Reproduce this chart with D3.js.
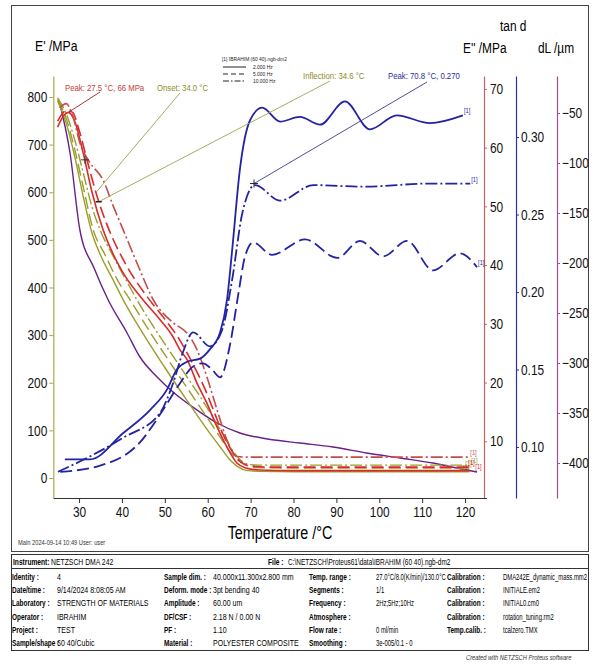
<!DOCTYPE html>
<html>
<head>
<meta charset="utf-8">
<script src="https://cdn.jsdelivr.net/npm/d3@7"></script>
<style>
  body { margin: 0; background: #fff; }
  text { font-family: "Liberation Sans", Arial, sans-serif; }
</style>
</head>
<body>
<svg id="chart" width="592" height="664"></svg>
<script>
// ---- data: [temperature °C, value] ----
const ePrime2Hz = [[25,792],[27,745],[29,675],[31,590],[33,515],[35,468],[38,415],[40.3,374],[45,302],[50,232],[55,165],[60,100],[63,64],[65,40],[67,24],[69,16],[72,14],[80,13],[100,13],[121,13]];
const ePrime5Hz = [[25,795],[27,755],[29,690],[31,610],[33.3,521],[36,470],[39,415],[41.9,374],[47,300],[52,232],[57,165],[62,98],[65,58],[67,38],[69,27],[71,22],[80,21],[100,21],[121,21]];
const ePrime10Hz = [[25,798],[27,765],[29,710],[31,640],[33,570],[34.9,521],[38,465],[41,415],[43.5,374],[49,295],[54,228],[59,160],[63,100],[66,55],[68,35],[70,28],[73,27],[80,27],[100,27],[121,27]];

const eLoss2Hz = [[25,63.5],[26.5,65.5],[27.5,66],[29,64.5],[31,59],[33,52.5],[35.6,46],[40,39],[44.9,34.1],[48.9,30.7],[51.9,27.8],[53.5,25.6],[55.2,23.9],[57.5,19.9],[59.8,16.5],[62.2,12.4],[64.5,9],[66.8,6.3],[68.7,5.5],[72,5.1],[80,5],[100,5],[121,5]];
const eLoss5Hz = [[25,64.5],[27,66.3],[28.5,66],[30,63],[32,57.5],[34.5,51],[37,46],[41,40],[46,34.5],[50,30.8],[53,27.8],[55,25.3],[57,22.5],[59.3,19],[61.5,15],[63.5,11.3],[65.7,8.3],[67.8,6.4],[70,5.8],[75,5.6],[100,5.6],[121,5.6]];
const eLoss10Hz = [[25.5,66.8],[27,67.5],[28.5,65.5],[30.2,60.8],[32.5,57.5],[35.6,54.5],[38,50],[40.3,46],[44,39.5],[47.3,34.1],[51.9,30.2],[55.2,28.4],[57.5,25.6],[59.8,21],[62.2,15.3],[64.5,10.2],[66.8,7.4],[69,7.3],[121,7.3]];

const tanD2Hz = [[26.7,0.092],[32.6,0.092],[40.3,0.109],[46.6,0.124],[50.5,0.137],[52.8,0.150],[55.2,0.155],[58.2,0.157],[60.5,0.163],[62.9,0.174],[64.5,0.195],[65.7,0.227],[67.5,0.279],[69.9,0.311],[72.7,0.319],[76.9,0.310],[81.5,0.313],[86.2,0.308],[92,0.323],[97.8,0.305],[104.1,0.314],[111.8,0.309],[119.5,0.314]];
const tanD5Hz = [[25.6,0.084],[34.9,0.088],[44.2,0.103],[49.6,0.124],[53.5,0.141],[56.6,0.152],[58.9,0.154],[61,0.150],[62.9,0.145],[65.2,0.166],[67.1,0.198],[68.7,0.223],[70.6,0.232],[75,0.224],[82.7,0.234],[90.2,0.222],[95.5,0.233],[100.9,0.223],[106.5,0.233],[112.5,0.214],[118.8,0.225],[122.8,0.216]];
const tanD10Hz = [[25.1,0.084],[32.6,0.094],[40.3,0.106],[48.9,0.122],[51.9,0.141],[54.2,0.161],[56.6,0.174],[60.5,0.165],[63.3,0.175],[65.7,0.208],[68,0.250],[71,0.269],[76.9,0.259],[84.6,0.269],[96.2,0.268],[111.8,0.270],[121.2,0.270]];

const dLength = [[25.3,-37],[27.9,-90],[30.2,-167],[33.5,-205],[36.8,-237],[41.2,-270],[44.2,-294],[48.2,-314],[51.9,-329],[57.5,-347],[62.2,-360],[67.5,-370],[74,-376],[81.5,-380],[89.2,-384],[97.1,-390],[104.8,-395],[112.5,-400],[118.1,-405],[122.8,-409]];

const xTicks = d3.range(30, 121, 10);
const eTicks = d3.range(0, 801, 100);
const e2Ticks = d3.range(10, 71, 10);
const tanTicks = [0.10, 0.15, 0.20, 0.25, 0.30];
const dlTicks = d3.range(-400, -49, 50);

const legendItems = ["2.000 Hz", "5.000 Hz", "10.000 Hz"];

const tableRows = [
  ["Identity :", "4", "Sample dim. :", "40.000x11.300x2.800 mm", "Temp. range :", "27.0°C/8.0(K/min)/130.0°C", "Calibration :", "DMA242E_dynamic_mass.mm2"],
  ["Date/time :", "9/14/2024 8:08:05 AM", "Deform. mode :", "3pt bending 40", "Segments :", "1/1", "Calibration :", "INITIALE.em2"],
  ["Laboratory :", "STRENGTH OF MATERIALS", "Amplitude :", "60.00 um", "Frequency :", "2Hz;5Hz;10Hz", "Calibration :", "INITIAL0.cm0"],
  ["Operator :", "IBRAHIM", "DF/CSF :", "2.18 N / 0.00 N", "Atmosphere :", "", "Calibration :", "rotation_tuning.rm2"],
  ["Project :", "TEST", "PF :", "1.10", "Flow rate :", "0 ml/min", "Temp.calib. :", "tcalzero.TMX"],
  ["Sample/shape :", "60 40/Cubic", "Material :", "POLYESTER COMPOSITE", "Smoothing :", "3e-005/0.1 - 0", "", ""]
];

// ---- colours ----
const olive = "#9c9c2c", red = "#d92b2b", red2 = "#c64b4b", blue = "#2323a3", purple = "#6c1f88";
const oliveAxis = "#a8a850", redAxis = "#c96464", blueAxis = "#2e2eb0", purpleAxis = "#a4508e";

const svg = d3.select("#chart");
svg.append("rect").attr("width", 592).attr("height", 664).attr("fill", "#fff");

// outer frame
svg.append("rect").attr("x", 11.5).attr("y", 5.5).attr("width", 577).attr("height", 546)
  .attr("fill", "none").attr("stroke", "#444").attr("stroke-width", 1);

// ---- scales ----
const x = d3.scaleLinear().domain([24, 125]).range([53.3, 486.5]);
const yE = d3.scaleLinear().domain([-42, 844]).range([498, 76]);
const yE2 = d3.scaleLinear().domain([0.34, 72.2]).range([498, 76]);
const yTan = d3.scaleLinear().domain([0.0671, 0.3394]).range([498, 76]);
const yDL = d3.scaleLinear().domain([-435, -13]).range([498, 76]);

function styleAxis(g, color, size) {
  g.select(".domain").attr("stroke", color).attr("stroke-width", 1.2);
  g.selectAll(".tick line").attr("stroke", color);
  g.selectAll(".tick text").attr("fill", "#111").attr("font-size", size)
    .attr("font-family", "'Liberation Sans',Arial,sans-serif");
}

// left E' axis
const gE = svg.append("g").attr("transform", "translate(53.3,0)");
gE.call(d3.axisLeft(yE).tickValues(d3.range(-40, 841, 20)).tickSize(2).tickSizeOuter(0).tickFormat(""));
gE.call(d3.axisLeft(yE).tickValues(eTicks).tickSize(4).tickSizeOuter(0).tickPadding(2));
styleAxis(gE, oliveAxis, 14.5);

// E'' axis
const gE2 = svg.append("g").attr("transform", "translate(484,0)");
gE2.call(d3.axisRight(yE2).tickValues(d3.range(2, 72, 2)).tickSize(2).tickSizeOuter(0).tickFormat(""));
gE2.call(d3.axisRight(yE2).tickValues(e2Ticks).tickSize(3).tickSizeOuter(0).tickPadding(3));
styleAxis(gE2, redAxis, 14.5);

// tan d axis
const gT = svg.append("g").attr("transform", "translate(516,0)");
gT.call(d3.axisRight(yTan).tickValues(d3.range(0.07, 0.335, 0.01)).tickSize(2).tickSizeOuter(0).tickFormat(""));
gT.call(d3.axisRight(yTan).tickValues(tanTicks).tickSize(3).tickSizeOuter(0).tickPadding(2).tickFormat(d3.format(".2f")));
styleAxis(gT, blueAxis, 14.5);

// dL axis
const gD = svg.append("g").attr("transform", "translate(557,0)");
gD.call(d3.axisRight(yDL).tickValues(d3.range(-425, -20, 25)).tickSize(2).tickSizeOuter(0).tickFormat(""));
gD.call(d3.axisRight(yDL).tickValues(dlTicks).tickSize(3).tickSizeOuter(0).tickPadding(2));
styleAxis(gD, purpleAxis, 14.5);

// x axis
const gX = svg.append("g").attr("transform", "translate(0,498)");
gX.call(d3.axisBottom(x).tickValues(d3.range(24, 125, 2)).tickSize(3).tickSizeOuter(0).tickFormat(""));
gX.call(d3.axisBottom(x).tickValues(xTicks).tickSize(5).tickSizeOuter(0).tickPadding(4));
styleAxis(gX, "#333", 14.5);

// axis titles
svg.append("text").attr("x", 35).attr("y", 51).attr("font-size", 15).text("E' /MPa");
svg.append("text").attr("x", 463).attr("y", 53).attr("font-size", 14.5).text("E'' /MPa");
svg.append("text").attr("x", 500).attr("y", 31).attr("font-size", 14.5).text("tan d");
svg.append("text").attr("x", 538).attr("y", 53).attr("font-size", 14.5).text("dL /µm");
svg.append("text").attr("x", 280).attr("y", 539).attr("font-size", 17.5).attr("text-anchor", "middle").text("Temperature /°C");

// ---- curves ----
const dashStyles = [null, "12,5", "12,3,2,3"];
function drawCurve(data, yScale, color, dash, width, dx = 1, dy = -2) {
  const line = d3.line().x(d => x(d[0])).y(d => yScale(d[1])).curve(d3.curveMonotoneX);
  svg.append("path").datum(data).attr("d", line).attr("fill", "none")
    .attr("stroke", color).attr("stroke-width", width)
    .attr("stroke-dasharray", dash);
  const last = data[data.length - 1];
  svg.append("text").attr("x", x(last[0]) + dx).attr("y", yScale(last[1]) + dy)
    .attr("font-size", 7).attr("fill", color).text("[1]");
}

drawCurve(dLength, yDL, purple, null, 1.4, -14, -2);
const oliveLabelDx = [-9, -4, 2];
[ePrime2Hz, ePrime5Hz, ePrime10Hz].forEach((d, i) => drawCurve(d, yE, olive, dashStyles[i], 1.4, oliveLabelDx[i], -2));
const redLabelDx = [6, -1, 1];
[eLoss2Hz, eLoss5Hz, eLoss10Hz].forEach((d, i) => drawCurve(d, yE2, i === 2 ? red2 : red, dashStyles[i], 1.6, redLabelDx[i], -2));
[tanD2Hz, tanD5Hz, tanD10Hz].forEach((d, i) => drawCurve(d, yTan, blue, dashStyles[i], 1.8));

// ---- annotations ----
function cross(px, py, color) {
  svg.append("path").attr("d", `M${px - 4},${py}H${px + 4}M${px},${py - 4}V${py + 4}`)
    .attr("stroke", color).attr("stroke-width", 1);
}
const peakE2 = [27.5, 66], onsetE = [34.0, 600], inflE = [34.6, 580], peakTan = [70.8, 0.270];

svg.append("line").attr("x1", 100).attr("y1", 92).attr("x2", x(peakE2[0])).attr("y2", yE2(peakE2[1]))
  .attr("stroke", "#a03838").attr("stroke-width", 1);
svg.append("line").attr("x1", 180).attr("y1", 93).attr("x2", x(onsetE[0])).attr("y2", yE(onsetE[1]))
  .attr("stroke", "#a0a050").attr("stroke-width", 0.9);
svg.append("line").attr("x1", 330).attr("y1", 81).attr("x2", x(inflE[0])).attr("y2", yE(inflE[1]))
  .attr("stroke", "#a0a050").attr("stroke-width", 0.9);
svg.append("line").attr("x1", 427).attr("y1", 82).attr("x2", x(peakTan[0])).attr("y2", yTan(peakTan[1]))
  .attr("stroke", "#3a3a90").attr("stroke-width", 0.9);
cross(x(peakTan[0]), yTan(peakTan[1]), "#222");
cross(x(31.4), yE(668), "#333");
svg.append("line").attr("x1", x(inflE[0]) - 3).attr("x2", x(inflE[0]) + 3)
  .attr("y1", yE(inflE[1])).attr("y2", yE(inflE[1])).attr("stroke", "#222").attr("stroke-width", 1.5);

svg.append("text").attr("x", 65).attr("y", 91).attr("font-size", 9.5).attr("fill", "#c0403a").text("Peak: 27.5 °C, 66 MPa");
svg.append("text").attr("x", 157).attr("y", 91).attr("font-size", 9.5).attr("fill", "#8c8c28").text("Onset: 34.0 °C");
svg.append("text").attr("x", 303).attr("y", 79).attr("font-size", 9.5).attr("fill", "#8c8c28").text("Inflection: 34.6 °C");
svg.append("text").attr("x", 388).attr("y", 79).attr("font-size", 9.5).attr("fill", "#2c2c9c").text("Peak: 70.8 °C, 0.270");

// ---- legend ----
svg.append("text").attr("x", 222).attr("y", 61).attr("font-size", 6).attr("fill", "#222").text("[1] IBRAHIM (60 40).ngb-dm2");
legendItems.forEach((t, i) => {
  const ly = 67 + i * 7;
  svg.append("line").attr("x1", 223).attr("x2", 246).attr("y1", ly).attr("y2", ly)
    .attr("stroke", "#222").attr("stroke-width", 1).attr("stroke-dasharray", i === 0 ? null : (i === 1 ? "5,3" : "6,2,1.5,2"));
  svg.append("text").attr("x", 253).attr("y", ly + 2).attr("font-size", 6).attr("fill", "#222").text(t);
});

// ---- footer ----
svg.append("text").attr("x", 18).attr("y", 545).attr("font-size", 7).attr("fill", "#333")
  .text("Main   2024-09-14 10:49    User: user");

const tbl = svg.append("g");
tbl.append("rect").attr("x", 11.5).attr("y", 554.5).attr("width", 577).attr("height", 96)
  .attr("fill", "none").attr("stroke", "#333");
tbl.append("line").attr("x1", 11.5).attr("x2", 588.5).attr("y1", 568.5).attr("y2", 568.5).attr("stroke", "#333");
tbl.append("text").attr("x", 13).attr("y", 565).attr("font-size", 9.5).attr("font-weight", "bold").attr("fill", "#000")
  .attr("data-k", 0.7).text("Instrument:");
tbl.append("text").attr("x", 51).attr("y", 565).attr("font-size", 9.5).attr("fill", "#000").attr("data-k", 0.72).text("NETZSCH DMA 242");
tbl.append("text").attr("x", 268).attr("y", 565).attr("font-size", 9.5).attr("font-weight", "bold").attr("fill", "#000")
  .attr("data-k", 0.7).text("File :");
tbl.append("text").attr("x", 288).attr("y", 565).attr("font-size", 9.5).attr("fill", "#000").attr("data-k", 0.68)
  .text("C:\\NETZSCH\\Proteus61\\data\\IBRAHIM (60 40).ngb-dm2");

const colX = [12, 57, 164, 213, 309, 376, 447, 503];
const colK = [0.68, 0.74, 0.68, 0.74, 0.68, 0.62, 0.68, 0.62];
tableRows.forEach((row, r) => {
  row.forEach((cell, c) => {
    tbl.append("text").attr("x", colX[c]).attr("y", 580 + r * 13.2)
      .attr("font-size", 9.5).attr("font-weight", c % 2 === 0 ? "bold" : "normal")
      .attr("data-k", colK[c])
      .attr("fill", "#000").text(cell);
  });
});
svg.append("text").attr("x", 466).attr("y", 660).attr("font-size", 7).attr("font-style", "italic")
  .attr("fill", "#333").text("Created with NETZSCH Proteus software");

// the original uses a narrow Arial face: squeeze every text horizontally about its anchor
svg.selectAll("text").each(function () {
  const t = d3.select(this);
  const k = +(t.attr("data-k") || 0.82);
  const ax = +(t.attr("x") || 0);
  t.attr("transform", `translate(${ax},0) scale(${k},1) translate(${-ax},0)`);
});
</script>
</body>
</html>
